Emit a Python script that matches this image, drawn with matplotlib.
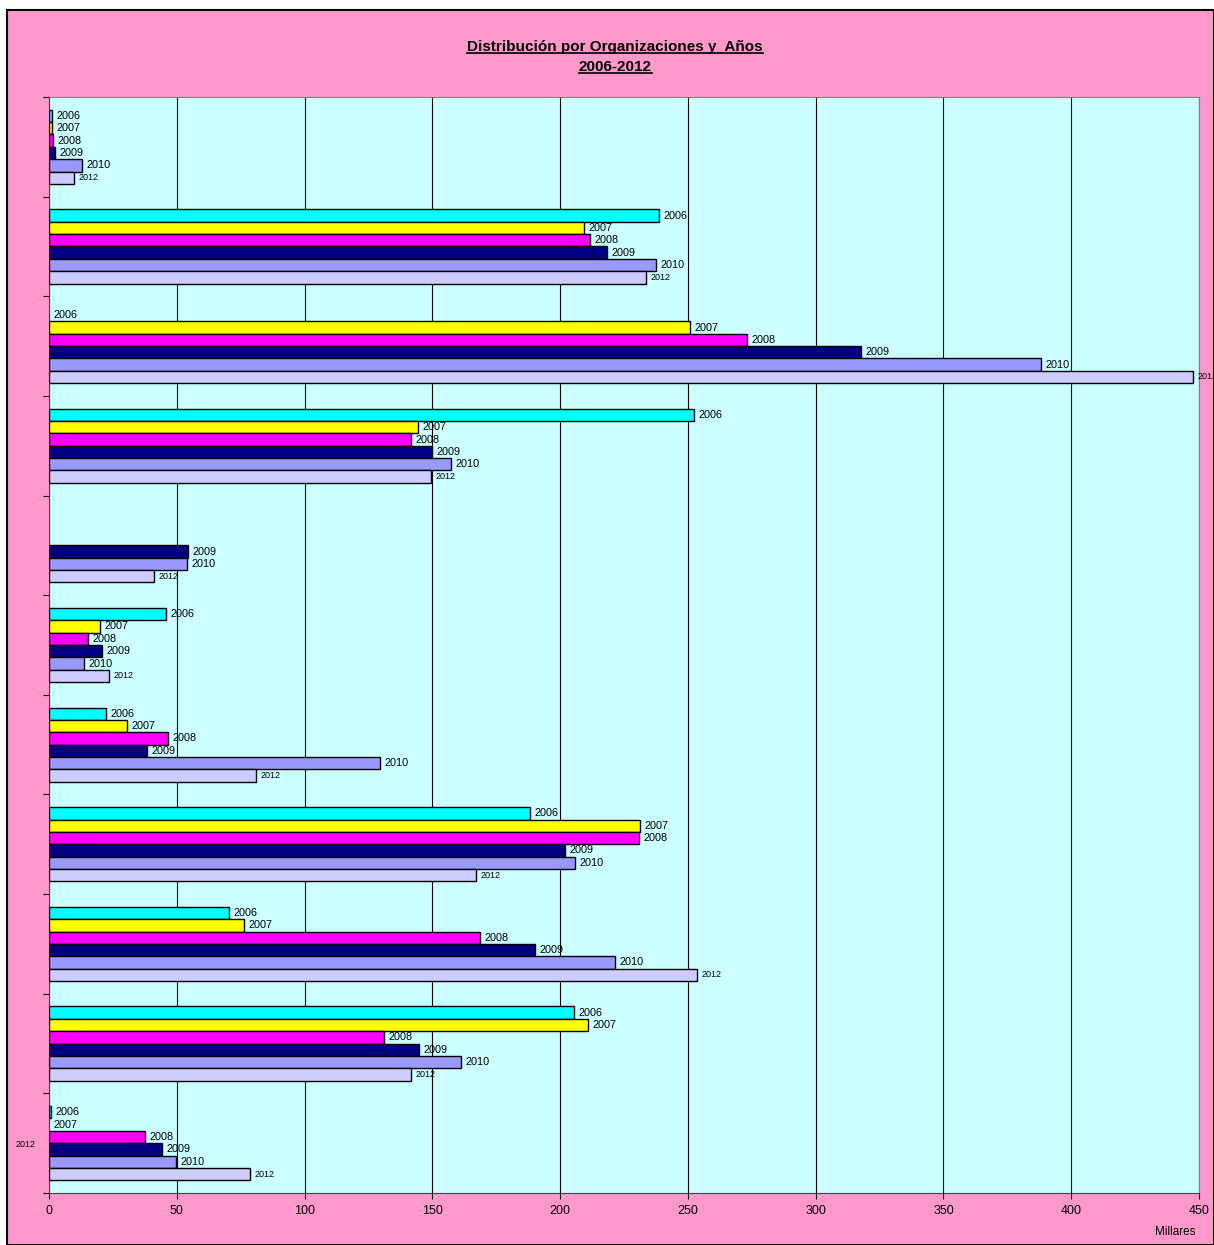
import numpy as np
import matplotlib
matplotlib.use("Agg")
import matplotlib.pyplot as plt
from matplotlib.patches import Rectangle
from matplotlib.lines import Line2D

plt.rcParams['font.family'] = ['Liberation Sans', 'DejaVu Sans']

# datos (miles)
years = ["2006", "2007", "2008", "2009", "2010", "2012"]
colors = ["#00FFFF", "#FFFF00", "#FF00FF", "#000080", "#9999FF", "#CCCCFF"]
categories = ["", "", "", "", "", "", "", "", "", "", "2012"]
v2006 = [1.0, 238.5, 0.0, 252.5, np.nan, 45.8, 22.3, 188.3, 70.5, 205.4, 0.8]
v2007 = [1.0, 209.4, 250.7, 144.5, np.nan, 20.0, 30.5, 231.3, 76.4, 210.9, 0.0]
v2008 = [1.5, 211.8, 273.2, 141.6, np.nan, 15.3, 46.6, 230.7, 168.8, 131.1, 37.6]
v2009 = [2.3, 218.2, 317.8, 150.0, 54.4, 20.7, 38.3, 201.8, 190.3, 144.8, 44.2]
v2010 = [13.0, 237.6, 388.0, 157.3, 54.0, 13.7, 129.5, 205.9, 221.3, 161.2, 49.7]
v2012 = [9.8, 233.7, 447.6, 149.3, 41.0, 23.5, 81.0, 167.2, 253.5, 141.6, 78.6]
series = [v2006, v2007, v2008, v2009, v2010, v2012]

W, H = 1214, 1245
fig = plt.figure(figsize=(W / 100, H / 100), dpi=100)
fig.patch.set_facecolor("white")
# marco rosa del grafico
fig.patches.append(Rectangle((7 / W, 0), 1 - 7 / W, 1 - 10 / H, transform=fig.transFigure,
                             facecolor="#FF99CC", edgecolor="black", linewidth=1.5, zorder=-5))

ax = fig.add_axes([49 / W, 1 - 1193 / H, (1199 - 49) / W, (1193 - 97) / H])
ax.set_facecolor("#CCFFFF")

n = len(categories)
y = np.arange(n)
bh = 0.124
for i, (yr, vals, c) in enumerate(zip(years, series, colors)):
    pos = y - 3 * bh + (i + 0.5) * bh
    for p, v in zip(pos, vals):
        if np.isnan(v):
            continue
        lw = 1.0 if v > 0 else 0
        ax.barh(p, v, height=bh, color=c, edgecolor="black", linewidth=lw, zorder=3)
        fs = 6.5 if yr == "2012" else 7.8
        ax.text(v + 1.8, p, yr, fontsize=fs, va="center", ha="left", zorder=4,
                clip_on=False)

ax.set_xlim(0, 450)
ax.set_ylim(n - 0.5, -0.5)
ax.set_xticks(np.arange(0, 451, 50))
ax.tick_params(axis="x", labelsize=9, length=4, direction="out", pad=5)
ax.set_yticks(np.arange(n + 1) - 0.5)
ax.set_yticklabels([])
ax.set_yticks(y, minor=True)
ax.set_yticklabels(categories, minor=True)
ax.tick_params(axis="y", which="major", length=4, direction="out")
ax.tick_params(axis="y", which="minor", length=0, labelsize=6.5, pad=10)
ax.grid(axis="x", color="black", linewidth=0.8, zorder=1)
for s in ["top", "right"]:
    ax.spines[s].set_color("#808080")
ax.spines["left"].set_color("#404040")
ax.spines["bottom"].set_color("#404040")

fig.text(1195 / W, 1 - 1232 / H, "Millares", fontsize=8.5, ha="right", va="center")

t1 = fig.text(615 / W, 1 - 47 / H, "Distribución por Organizaciones y  Años",
              fontsize=11, fontweight="bold", ha="center", va="center")
t2 = fig.text(615 / W, 1 - 67 / H, "2006-2012",
              fontsize=11, fontweight="bold", ha="center", va="center")

# subrayado del titulo
fig.canvas.draw()
r = fig.canvas.get_renderer()
for t in (t1, t2):
    bb = t.get_window_extent(renderer=r).transformed(fig.transFigure.inverted())
    fig.lines.append(Line2D([bb.x0, bb.x1], [bb.y0 + 0.0005, bb.y0 + 0.0005],
                            transform=fig.transFigure, color="black", linewidth=1.2))

fig.savefig("out.png", dpi=100, facecolor=fig.get_facecolor())
